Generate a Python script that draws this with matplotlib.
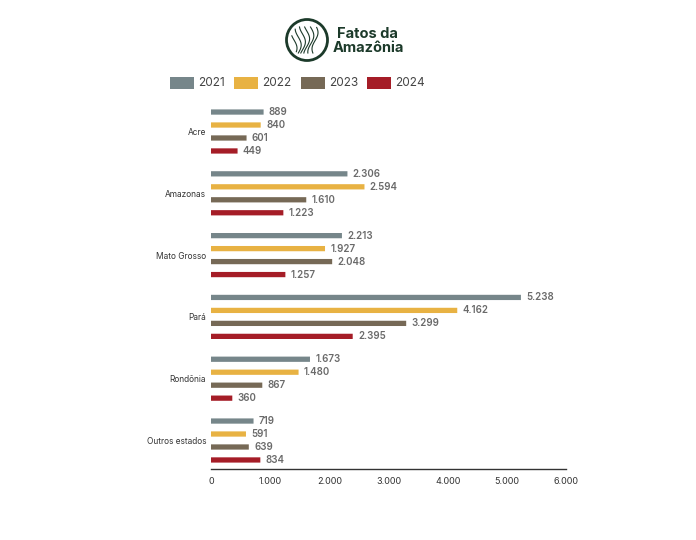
import matplotlib
matplotlib.use("Agg")
import matplotlib.pyplot as plt
from matplotlib.patches import Rectangle, Circle, FancyBboxPatch
import numpy as np

categories = ["Acre", "Amazonas", "Mato Grosso", "Pará", "Rondônia", "Outros estados"]
years = ["2021", "2022", "2023", "2024"]
v2021 = [889, 2306, 2213, 5238, 1673, 719]
v2022 = [840, 2594, 1927, 4162, 1480, 591]
v2023 = [601, 1610, 2048, 3299, 867, 639]
v2024 = [449, 1223, 1257, 2395, 360, 834]
colors = ["#76868a", "#e8b243", "#766956", "#a51d27"]
xticks = [0, 1000, 2000, 3000, 4000, 5000, 6000]

plt.rcParams['font.family'] = ['Inter', 'DejaVu Sans']

W, H = 696, 540
fig = plt.figure(figsize=(W / 100, H / 100), dpi=100)

def fx(px):
    return px / W

def fy(py):
    return 1 - py / H

ax = fig.add_axes([fx(211), fy(469), fx(566) - fx(211), fy(100) - fy(469)])

series = [v2021, v2022, v2023, v2024]
offsets = [-0.315, -0.105, 0.105, 0.315]
bar_h = 0.085
for s, off, col in zip(series, offsets, colors):
    for i, v in enumerate(s):
        y = i + off
        ax.add_patch(FancyBboxPatch((0, y - bar_h / 2), v, bar_h,
                                    boxstyle="round,pad=0,rounding_size=0.04",
                                    mutation_aspect=1, facecolor=col, edgecolor="none"))
        ax.text(v + 90, y, f"{v:,}".replace(",", "."), va="center", ha="left",
                fontsize=7, color="#6a6a6a", fontweight="semibold")

ax.set_xlim(0, 6000)
ax.set_ylim(5 + 28.5 / 61.8, -31.5 / 61.8)
ax.set_xticks(xticks)
ax.set_xticklabels([f"{t:,}".replace(",", ".") for t in xticks], fontsize=6.5, color="#333333")
ax.set_yticks(range(len(categories)))
ax.set_yticklabels(categories, fontsize=6, color="#333333")
ax.tick_params(axis="both", length=0)
ax.tick_params(axis="x", pad=5.5)
ax.tick_params(axis="y", pad=3.5)
for sp in ["top", "right", "left"]:
    ax.spines[sp].set_visible(False)
ax.spines["bottom"].set_color("#333333")
ax.spines["bottom"].set_linewidth(1.0)

# Legend
leg_x = [170, 234, 301, 367]
for lx, col, yr in zip(leg_x, colors, years):
    fig.patches.append(Rectangle((fx(lx), fy(89)), fx(24), fy(77) - fy(89),
                                 transform=fig.transFigure, facecolor=col, edgecolor="none"))
    fig.text(fx(lx + 28), fy(83.5), yr, fontsize=8.5, color="#444444", va="center", ha="left")

# Logo
green = "#1c3a2a"
cx, cy, r = 307, 40, 20.5
circ = Circle((cx / 100, (H - cy) / 100), r / 100, transform=fig.dpi_scale_trans,
              facecolor="none", edgecolor=green, linewidth=2.0)
fig.patches.append(circ)
t = np.linspace(-1, 1, 60)
for k in range(6):
    xs = cx - 13 + k * 4.2 + 3 * np.sin(t * 2.5 + k * 0.6)
    ys = cy - 13 + (t + 1) * 13
    mask = (xs - cx) ** 2 + (ys - cy) ** 2 < (r - 4.5) ** 2
    fig.add_artist(plt.Line2D(fx(xs[mask]), fy(ys[mask]), color=green, linewidth=0.8))
fig.text(fx(337), fy(38), "Fatos da", fontsize=10.5, fontweight="bold", color=green,
         va="baseline", ha="left")
fig.text(fx(333), fy(52), "Amazônia", fontsize=10.5, fontweight="bold", color=green,
         va="baseline", ha="left")

fig.savefig("out.png", dpi=100, facecolor="white")
